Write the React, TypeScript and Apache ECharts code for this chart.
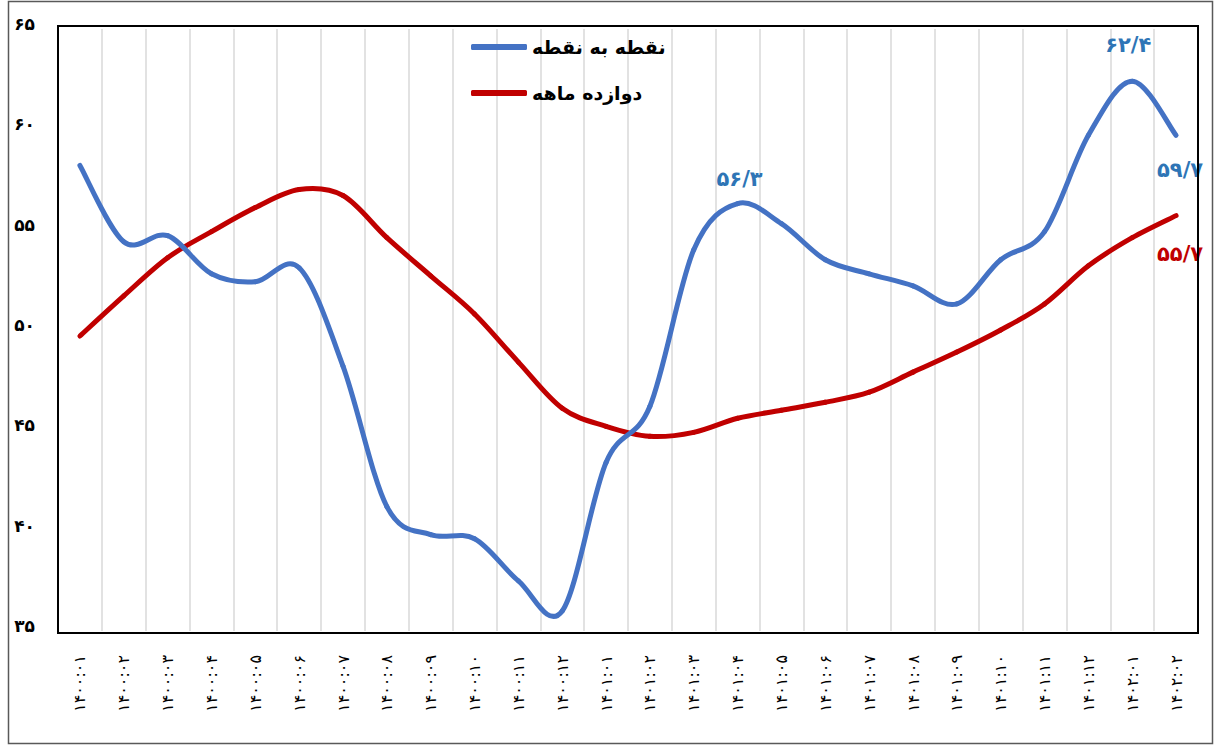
import React, { useEffect, useRef } from "react";
import * as echarts from "echarts";

const categories = [
  "۱۴۰۰:۰۱", "۱۴۰۰:۰۲", "۱۴۰۰:۰۳", "۱۴۰۰:۰۴", "۱۴۰۰:۰۵", "۱۴۰۰:۰۶",
  "۱۴۰۰:۰۷", "۱۴۰۰:۰۸", "۱۴۰۰:۰۹", "۱۴۰۰:۱۰", "۱۴۰۰:۱۱", "۱۴۰۰:۱۲",
  "۱۴۰۱:۰۱", "۱۴۰۱:۰۲", "۱۴۰۱:۰۳", "۱۴۰۱:۰۴", "۱۴۰۱:۰۵", "۱۴۰۱:۰۶",
  "۱۴۰۱:۰۷", "۱۴۰۱:۰۸", "۱۴۰۱:۰۹", "۱۴۰۱:۱۰", "۱۴۰۱:۱۱", "۱۴۰۱:۱۲",
  "۱۴۰۲:۰۱", "۱۴۰۲:۰۲",
];

const pointToPoint = [
  58.2, 54.4, 54.7, 52.8, 52.4, 53.1, 48.2, 41.2, 39.8, 39.6, 37.5, 36.0, 43.4,
  46.2, 54.0, 56.3, 55.3, 53.5, 52.8, 52.2, 51.3, 53.5, 54.9, 59.7, 62.4, 59.7,
];

const twelveMonth = [
  49.7, 51.7, 53.6, 54.9, 56.1, 57.0, 56.7, 54.6, 52.7, 50.8, 48.4, 46.1, 45.2,
  44.7, 44.9, 45.6, 46.0, 46.4, 46.9, 47.9, 48.9, 50.0, 51.3, 53.2, 54.6, 55.7,
];

const seriesNames = ["نقطه به نقطه", "دوازده ماهه"];
const yTicks = [35, 40, 45, 50, 55, 60, 65];

// indices that carry a data label
const pointToPointLabeled = [15, 24, 25];
const twelveMonthLabeled = [25];

const FA = "۰۱۲۳۴۵۶۷۸۹";
const toFa = (s: string) => s.replace(/\d/g, (d) => FA[Number(d)]).replace(".", "/");

const BLUE = "#4472C4";
const RED = "#C00000";
const BLUE_LABEL = "#2E75B6";
const FONT = "DejaVu Sans";

type LabelPos = Record<number, [number, number]>;

function makeSmoothSeries(
  name: string,
  values: number[],
  color: string,
  labelColor: string,
  labeled: number[],
  labelOffsets: LabelPos,
  z: number
) {
  return {
    name,
    type: "custom",
    data: values.map((v, i) => [i, v]),
    encode: { x: 0, y: 1 },
    itemStyle: { color },
    z,
    clip: false,
    renderItem: (params: any, api: any) => {
      const i = params.dataIndex;
      const n = values.length;
      const pt = (k: number) => {
        const kk = Math.max(0, Math.min(n - 1, k));
        return api.coord([kk, values[kk]]);
      };
      const children: any[] = [];
      if (i < n - 1) {
        const p0 = pt(i - 1);
        const p1 = pt(i);
        const p2 = pt(i + 1);
        const p3 = pt(i + 2);
        children.push({
          type: "bezierCurve",
          shape: {
            x1: p1[0],
            y1: p1[1],
            x2: p2[0],
            y2: p2[1],
            cpx1: p1[0] + (p2[0] - p0[0]) / 6,
            cpy1: p1[1] + (p2[1] - p0[1]) / 6,
            cpx2: p2[0] - (p3[0] - p1[0]) / 6,
            cpy2: p2[1] - (p3[1] - p1[1]) / 6,
          },
          style: { stroke: color, lineWidth: 5, fill: "none", lineCap: "round" },
        });
      }
      if (labeled.indexOf(i) >= 0) {
        const p = pt(i);
        const off = labelOffsets[i] || [0, 0];
        children.push({
          type: "text",
          x: p[0] + off[0],
          y: p[1] + off[1],
          z2: 10,
          style: {
            text: toFa(values[i].toFixed(1)),
            fill: labelColor,
            fontFamily: FONT,
            fontSize: 21,
            fontWeight: "bold",
            align: "center",
            verticalAlign: "middle",
          },
        });
      }
      return { type: "group", children };
    },
  };
}

export default function App() {
  const ref = useRef<HTMLDivElement>(null);
  useEffect(() => {
    document.body.style.margin = "0";
    const chart = echarts.init(ref.current!, undefined, { renderer: "svg" });

    chart.setOption({
      animation: false,
      backgroundColor: "#ffffff",
      grid: { left: 58, right: 16, top: 29, bottom: 114, containLabel: false },
      legend: {
        orient: "vertical",
        left: 466,
        top: 30,
        itemWidth: 56,
        itemHeight: 6,
        itemGap: 22,
        icon: "roundRect",
        textStyle: {
          fontFamily: FONT,
          fontSize: 19,
          fontWeight: "bold",
          color: "#000",
          lineHeight: 24,
        },
        data: seriesNames,
      },
      xAxis: {
        type: "category",
        data: categories,
        boundaryGap: true,
        axisLine: { show: false },
        axisTick: { show: false },
        axisLabel: {
          interval: 0,
          rotate: 90,
          margin: 24,
          fontFamily: FONT,
          fontSize: 16,
          color: "#000",
        },
        splitLine: {
          show: true,
          interval: 0,
          lineStyle: { color: "#d9d9d9", width: 1.5 },
        },
      },
      yAxis: {
        type: "value",
        min: yTicks[0],
        max: yTicks[yTicks.length - 1],
        interval: 5,
        axisLine: { show: false },
        axisTick: { show: false },
        splitLine: { show: false },
        axisLabel: {
          margin: 23,
          fontFamily: FONT,
          fontSize: 17,
          fontWeight: "bold",
          color: "#000",
          verticalAlign: "bottom",
          lineHeight: 10,
          formatter: (v: number) => toFa(String(v)),
        },
      },
      graphic: [
        {
          type: "rect",
          shape: { x: 58, y: 26, width: 1140, height: 607 },
          style: { fill: "none", stroke: "#000", lineWidth: 2 },
          z: 10,
        },
        {
          type: "rect",
          shape: { x: 8.5, y: 1.5, width: 1204, height: 742 },
          style: { fill: "none", stroke: "#595959", lineWidth: 1.5 },
          z: 10,
        },
      ],
      series: [
        makeSmoothSeries(
          seriesNames[0],
          pointToPoint,
          BLUE,
          BLUE_LABEL,
          pointToPointLabeled,
          { 15: [2, -25], 24: [-4, -36], 25: [4, 35] },
          3
        ),
        makeSmoothSeries(
          seriesNames[1],
          twelveMonth,
          RED,
          RED,
          twelveMonthLabeled,
          { 25: [4, 38] },
          2
        ),
      ],
    });
    return () => chart.dispose();
  }, []);
  return <div ref={ref} style={{ width: 1214, height: 745 }} />;
}
